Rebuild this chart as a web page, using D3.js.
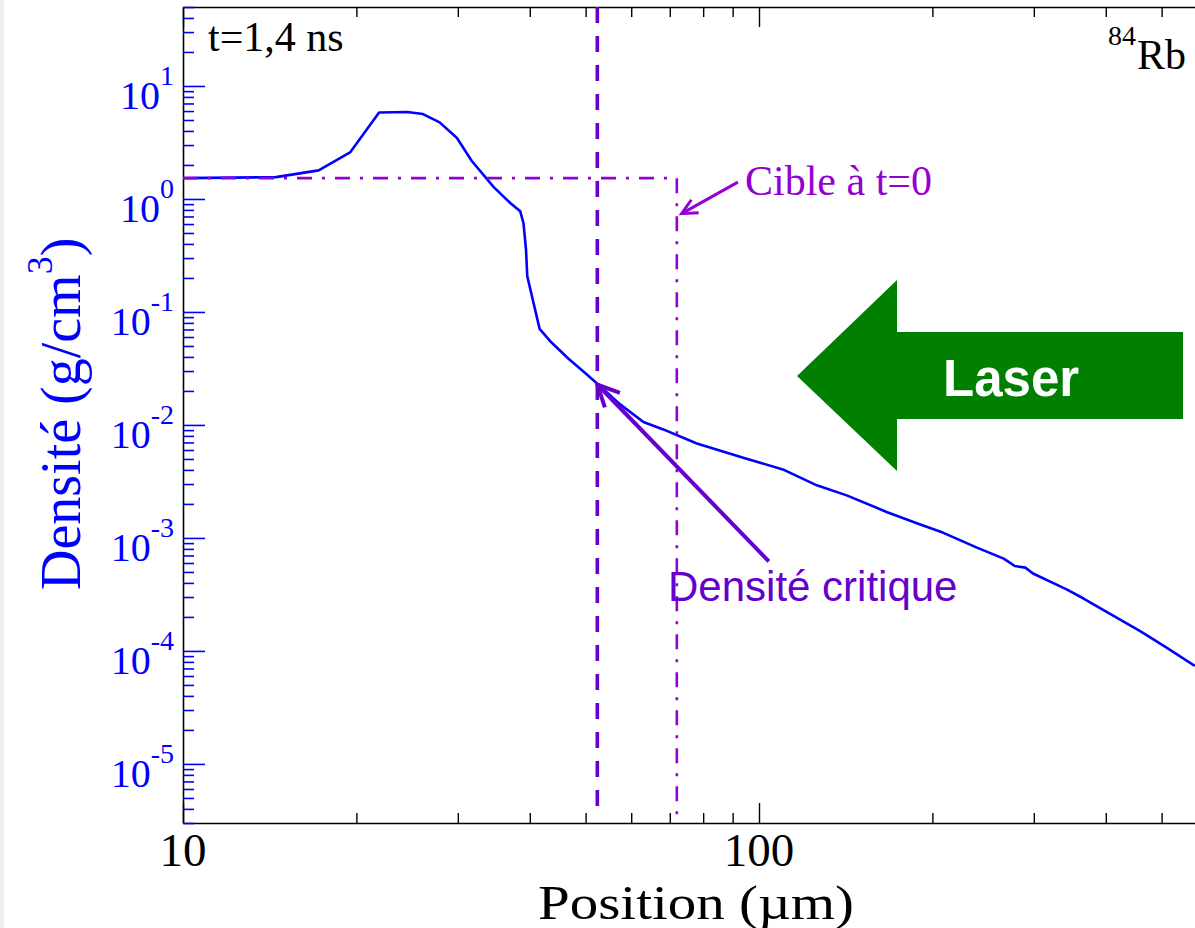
<!DOCTYPE html>
<html>
<head>
<meta charset="utf-8">
<script src="https://cdn.jsdelivr.net/npm/d3@7"></script>
<style>
  html, body { margin: 0; padding: 0; background: #fff; }
  svg { display: block; }
</style>
</head>
<body>
<svg id="chart" width="1195" height="928"></svg>
<script>
// Density profile of a 84Rb target, 1.4 ns after the start of the laser pulse
const positions = [10, 14.5, 17.2, 19.5, 21.9, 24.5, 26.1, 27.9, 29.9, 31.7, 34.6, 37.0, 38.5, 39.0,
  39.4, 39.6, 41.6, 43.4, 46.7, 49.5, 52.6, 57.4, 63.0, 68.2, 78.0, 93.9, 110, 126, 142, 167, 190,
  209, 239, 266, 278, 290, 299, 342, 366, 402, 459, 510, 571];
const densities = [1.53, 1.56, 1.79, 2.58, 5.83, 5.88, 5.64, 4.76, 3.46, 2.18, 1.28, 0.922, 0.777, 0.613,
  0.356, 0.207, 0.0709, 0.0551, 0.0385, 0.0299, 0.0228, 0.0152, 0.0106, 0.00913, 0.00686, 0.00513,
  0.00404, 0.00292, 0.00238, 0.00169, 0.00132, 0.00111, 0.000821, 0.000656, 0.000564, 0.000546,
  0.000484, 0.000351, 0.000291, 0.000221, 0.000150, 0.000107, 0.0000737];

// Solid target at t = 0 (step profile)
const targetPositions = [10, 72, 72];
const targetDensities = [1.53, 1.53, 3e-6];

// Critical density position
const criticalPosition = 52.4;
const criticalDensity = 0.0228;

// Axis ticks
const xMajorTicks = [10, 100, 1000];
const xTickLabels = ["10", "100", "1000"];
const xMinorTicks = [20, 30, 40, 50, 60, 70, 80, 90, 200, 300, 400, 500, 600, 700, 800, 900];
const yMajorTicks = [10, 1, 0.1, 0.01, 0.001, 0.0001, 0.00001];
const yTickExponents = ["1", "0", "-1", "-2", "-3", "-4", "-5"];
const yMinorMantissas = [2, 3, 4, 5, 6, 7, 8, 9];

const W = 1195, H = 928;
const plotLeft = 183, plotTop = 7, plotBottom = 823, decade = 576;
const serif = "'Liberation Serif', 'Times New Roman', serif";
const sans = "'Liberation Sans', Arial, sans-serif";
const blue = "#0000ff", violet = "#9400d3", indigo = "#6600cc";

const svg = d3.select("#chart");
svg.append("rect").attr("width", W).attr("height", H).attr("fill", "#fff");
svg.append("rect").attr("width", 4).attr("height", H).attr("fill", "#f0f0f0");

const x = d3.scaleLog().domain([10, 1000]).range([plotLeft, plotLeft + 2 * decade]);
const y = d3.scaleLog().domain([3e-6, 50]).range([plotBottom, plotTop]);

const yMinorTicks = [];
yMajorTicks.concat([1e-6]).forEach(d => yMinorMantissas.forEach(m => {
  const v = d * m;
  if (v >= 3e-6 && v <= 50 && !yMajorTicks.includes(v)) yMinorTicks.push(v);
}));

svg.append("defs").append("clipPath").attr("id", "plot")
  .append("rect").attr("x", plotLeft).attr("y", plotTop)
  .attr("width", W - plotLeft).attr("height", plotBottom - plotTop);

// ---- Axes ----
function styleAxis(g, color, width) {
  g.selectAll(".domain").attr("stroke", "#000").attr("stroke-width", 1.6);
  g.selectAll(".tick line").attr("stroke", color).attr("stroke-width", width);
  g.selectAll(".tick text").remove();
}
svg.append("g").attr("transform", `translate(0,${plotBottom})`)
  .call(d3.axisBottom(x).tickValues(xMajorTicks).tickSize(-20).tickSizeOuter(0))
  .call(styleAxis, "#000", 1.4);
svg.append("g").attr("transform", `translate(0,${plotBottom})`)
  .call(d3.axisBottom(x).tickValues(xMinorTicks).tickSize(-10).tickSizeOuter(0))
  .call(styleAxis, "#000", 1.4).select(".domain").remove();
svg.append("g").attr("transform", `translate(0,${plotTop})`)
  .call(d3.axisTop(x).tickValues(xMajorTicks).tickSize(-20).tickSizeOuter(0))
  .call(styleAxis, "#000", 1.4);
svg.append("g").attr("transform", `translate(0,${plotTop})`)
  .call(d3.axisTop(x).tickValues(xMinorTicks).tickSize(-10).tickSizeOuter(0))
  .call(styleAxis, "#000", 1.4).select(".domain").remove();

svg.append("g").attr("transform", `translate(${plotLeft},0)`)
  .call(d3.axisLeft(y).tickValues(yMajorTicks).tickSize(-22).tickSizeOuter(0))
  .call(styleAxis, blue, 1.6);
svg.append("g").attr("transform", `translate(${plotLeft},0)`)
  .call(d3.axisLeft(y).tickValues(yMinorTicks).tickSize(-11).tickSizeOuter(0))
  .call(styleAxis, blue, 1.6).select(".domain").remove();

// x tick labels (only those inside the visible frame)
const xLabelData = xMajorTicks.map((d, i) => ({ v: d, label: xTickLabels[i] }))
  .filter(d => x(d.v) + 30 <= W);
svg.append("g").selectAll("text").data(xLabelData).join("text")
  .attr("x", d => x(d.v)).attr("y", 866)
  .attr("text-anchor", "middle")
  .attr("font-family", serif).attr("font-size", 47).attr("fill", "#000")
  .text(d => d.label);

// y tick labels: 10 with superscript exponent
const yl = svg.append("g").selectAll("text").data(yMajorTicks).join("text")
  .attr("x", 174).attr("y", d => y(d) + 23)
  .attr("text-anchor", "end")
  .attr("font-family", serif).attr("fill", blue);
yl.append("tspan").attr("font-size", 40).text("10");
yl.append("tspan").attr("font-size", 28).attr("dy", -24).text((d, i) => yTickExponents[i]);

// axis titles
svg.append("text")
  .attr("x", 696).attr("y", 919).attr("text-anchor", "middle")
  .attr("font-family", serif).attr("font-size", 48).attr("fill", "#000")
  .attr("textLength", 316).attr("lengthAdjust", "spacingAndGlyphs")
  .text("Position (µm)");

const yt = svg.append("text")
  .attr("transform", "translate(80,590) rotate(-90)")
  .attr("font-family", serif).attr("font-size", 56).attr("fill", blue);
yt.append("tspan").text("Densité (g/cm");
yt.append("tspan").attr("font-size", 36).attr("dy", -28).text("3");
yt.append("tspan").attr("dy", 28).text(")");

// ---- Data layers ----
const plot = svg.append("g").attr("clip-path", "url(#plot)");
const line = d3.line().x(d => x(d[0])).y(d => y(d[1]));

plot.append("path")
  .datum(d3.zip(positions, densities))
  .attr("d", line)
  .attr("fill", "none").attr("stroke", blue).attr("stroke-width", 2.6)
  .attr("stroke-linejoin", "round");

plot.append("path")
  .datum(d3.zip(targetPositions, targetDensities))
  .attr("d", line)
  .attr("fill", "none").attr("stroke", violet).attr("stroke-width", 2.6)
  .attr("stroke-dasharray", "15,10,3,10");

plot.append("line")
  .attr("x1", x(criticalPosition)).attr("x2", x(criticalPosition))
  .attr("y1", plotTop).attr("y2", 812)
  .attr("stroke", indigo).attr("stroke-width", 3.6)
  .attr("stroke-dasharray", "16,13");

// ---- Annotations ----
function arrow(from, to, color, width, armLen) {
  const x0 = x(from[0]), y0 = y(from[1]), x1 = x(to[0]), y1 = y(to[1]);
  const a = Math.atan2(y0 - y1, x0 - x1);
  const g = svg.append("g").attr("stroke", color).attr("stroke-width", width)
    .attr("fill", "none").attr("stroke-linecap", "butt");
  g.append("line").attr("x1", x0).attr("y1", y0).attr("x2", x1).attr("y2", y1);
  const spread = 0.45;
  g.append("path").attr("d",
    `M${x1 + armLen * Math.cos(a - spread)},${y1 + armLen * Math.sin(a - spread)}` +
    `L${x1},${y1}` +
    `L${x1 + armLen * Math.cos(a + spread)},${y1 + armLen * Math.sin(a + spread)}`);
}

arrow([104, 6.2e-4], [criticalPosition, criticalDensity], indigo, 4, 24);
svg.append("text").attr("x", 668).attr("y", 601)
  .attr("font-family", sans).attr("font-size", 42).attr("fill", indigo)
  .text("Densité critique");

arrow([91.9, 1.41], [73.4, 0.741], violet, 3, 17);
svg.append("text").attr("x", 745).attr("y", 195)
  .attr("font-family", serif).attr("font-size", 42).attr("fill", violet)
  .text("Cible à t=0");

// Laser arrow
svg.append("polygon")
  .attr("points", [[797, 376], [897, 280], [897, 332], [1183, 332], [1183, 419], [897, 419], [897, 471]]
    .map(p => p.join(",")).join(" "))
  .attr("fill", "#007f00");
svg.append("text").attr("x", 943).attr("y", 396)
  .attr("font-family", sans).attr("font-weight", "bold").attr("font-size", 51).attr("fill", "#fff")
  .text("Laser");

// Time stamp and species
svg.append("text").attr("x", 208).attr("y", 51)
  .attr("font-family", serif).attr("font-size", 42).attr("fill", "#000")
  .text("t=1,4 ns");
svg.append("text").attr("x", 1108).attr("y", 45)
  .attr("font-family", serif).attr("font-size", 28).attr("fill", "#000")
  .text("84");
svg.append("text").attr("x", 1137).attr("y", 69)
  .attr("font-family", serif).attr("font-size", 42).attr("fill", "#000")
  .text("Rb");
</script>
</body>
</html>
